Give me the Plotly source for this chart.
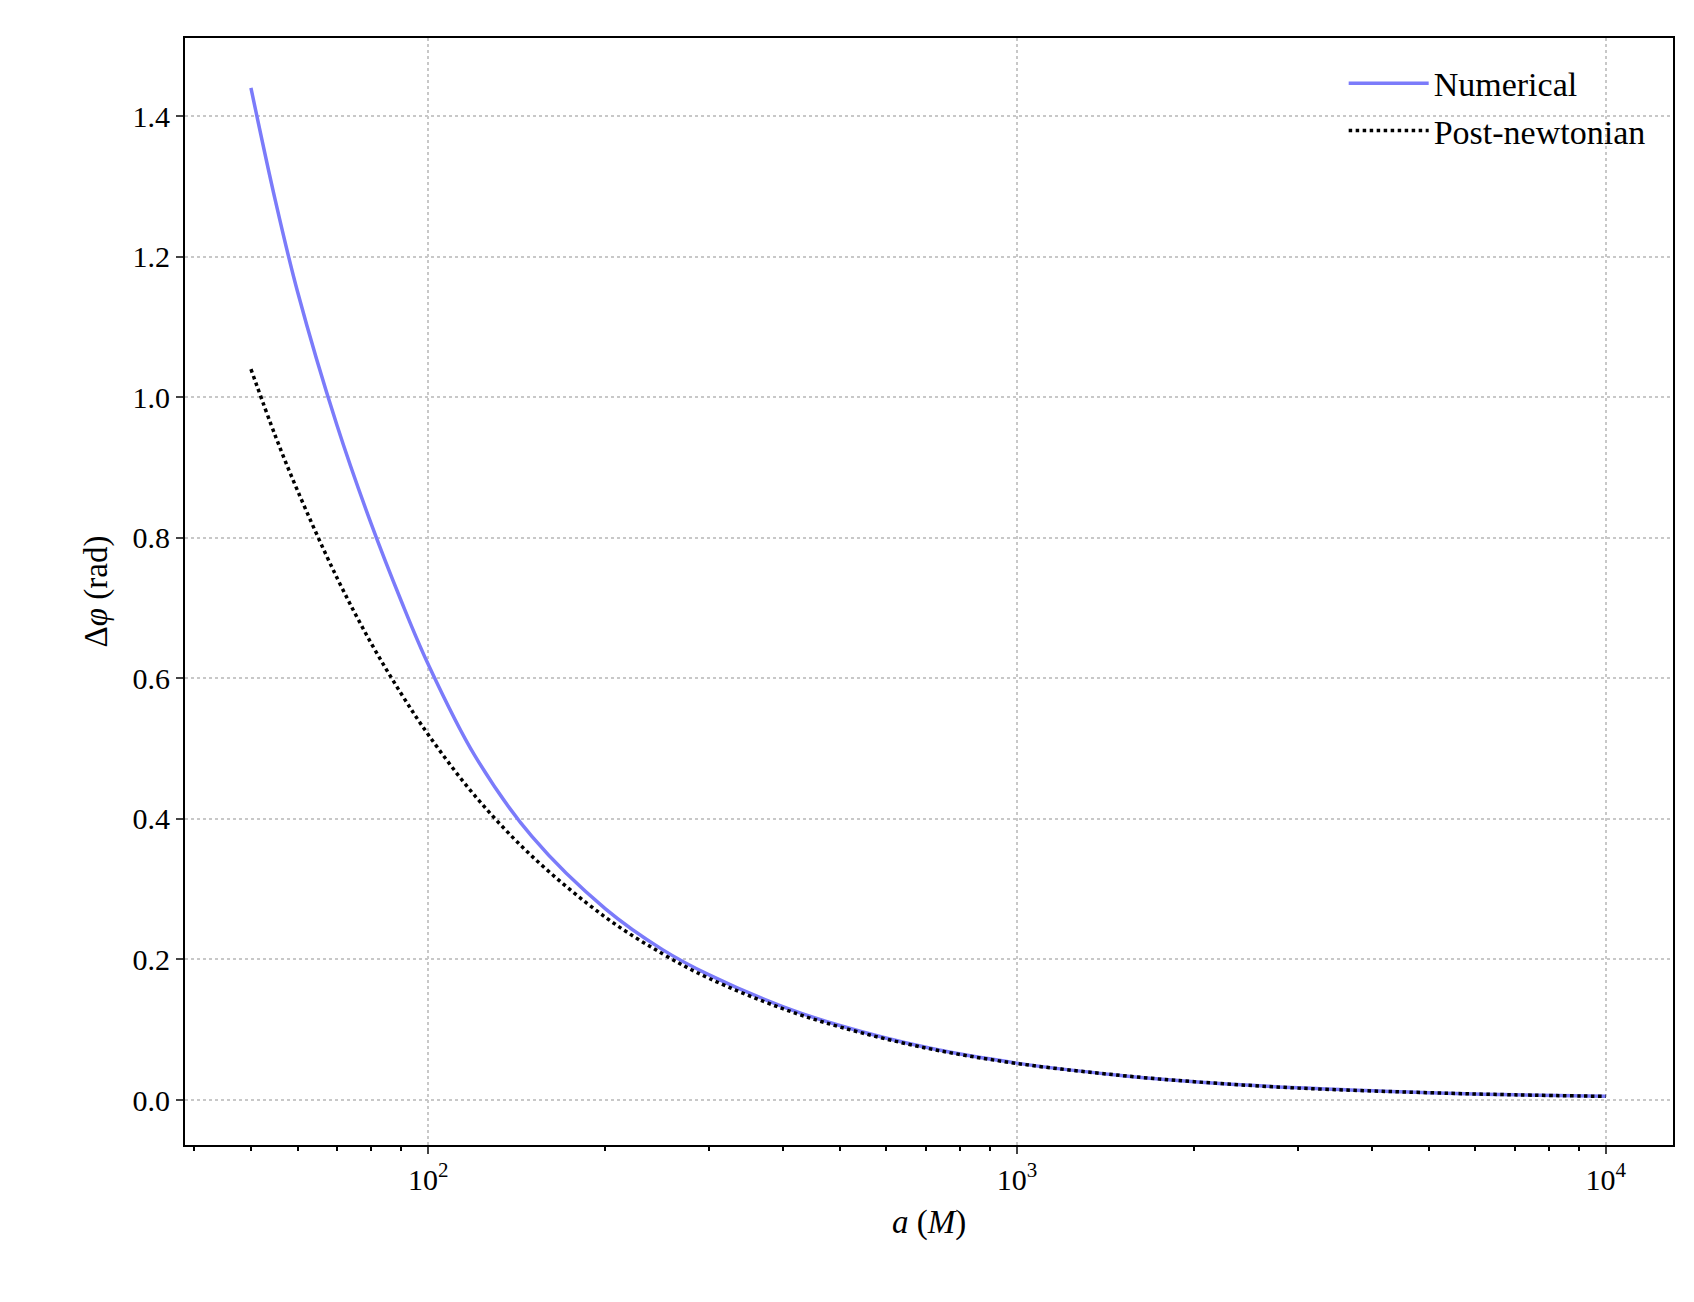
import plotly.graph_objects as go

a_vals = [50, 55, 60, 70, 80, 90, 100, 120, 150, 200, 250, 300, 400, 500, 700,
          1000, 1500, 2000, 3000, 5000, 7000, 10000]
numerical = [1.44, 1.28, 1.15, 0.96, 0.82, 0.71, 0.62, 0.49, 0.375, 0.272, 0.214,
             0.178, 0.133, 0.106, 0.075, 0.0525, 0.035, 0.026, 0.0174, 0.0104, 0.0074, 0.0052]
post_newtonian = [1.04, 0.945, 0.867, 0.743, 0.65, 0.578, 0.52, 0.433, 0.347, 0.26, 0.208,
                  0.173, 0.13, 0.104, 0.074, 0.052, 0.035, 0.026, 0.017, 0.0104, 0.0074, 0.0052]

font = "Liberation Serif"
fig = go.Figure()
fig.add_trace(go.Scatter(x=a_vals, y=numerical, mode="lines", name="Numerical",
                         line=dict(color="#7b7bfa", width=3.5, shape="spline")))
fig.add_trace(go.Scatter(x=a_vals, y=post_newtonian, mode="lines", name="Post-newtonian",
                         line=dict(color="black", width=3.5, dash="dot", shape="spline")))

grid = dict(showgrid=True, gridcolor="#c8c8c8", griddash="dot", gridwidth=1.5,
            showline=True, linecolor="black", linewidth=2, mirror=True,
            ticks="outside", ticklen=7, tickwidth=1.5, zeroline=False,
            tickfont=dict(family=font, size=30, color="black"))
fig.update_xaxes(type="log", range=[1.587, 4.114],
                 tickvals=[100, 1000, 10000],
                 ticktext=["10<sup>2</sup>", "10<sup>3</sup>", "10<sup>4</sup>"],
                 minor=dict(tickvals=[40, 50, 60, 70, 80, 90, 200, 300, 400, 500, 600, 700, 800, 900,
                                      2000, 3000, 4000, 5000, 6000, 7000, 8000, 9000],
                            ticks="outside", ticklen=4, tickcolor="black", showgrid=False),
                 title=dict(text="<i>a</i> (<i>M</i>)", font=dict(family=font, size=33)),
                 **grid)
fig.update_yaxes(range=[-0.064, 1.511], tickvals=[0, 0.2, 0.4, 0.6, 0.8, 1.0, 1.2, 1.4],
                 tickformat=".1f",
                 title=dict(text="Δ<i>φ</i> (rad)", font=dict(family=font, size=33)),
                 **grid)
fig.update_layout(width=1694, height=1302, plot_bgcolor="white", paper_bgcolor="white",
                  margin=dict(l=177, r=29, t=30, b=165),
                  font=dict(family=font, color="black"),
                  legend=dict(x=0.985, y=0.985, xanchor="right", yanchor="top",
                              bgcolor="rgba(255,255,255,0)", itemwidth=80,
                              tracegroupgap=10,
                              font=dict(family=font, size=34)))
fig.write_html("out.html")
